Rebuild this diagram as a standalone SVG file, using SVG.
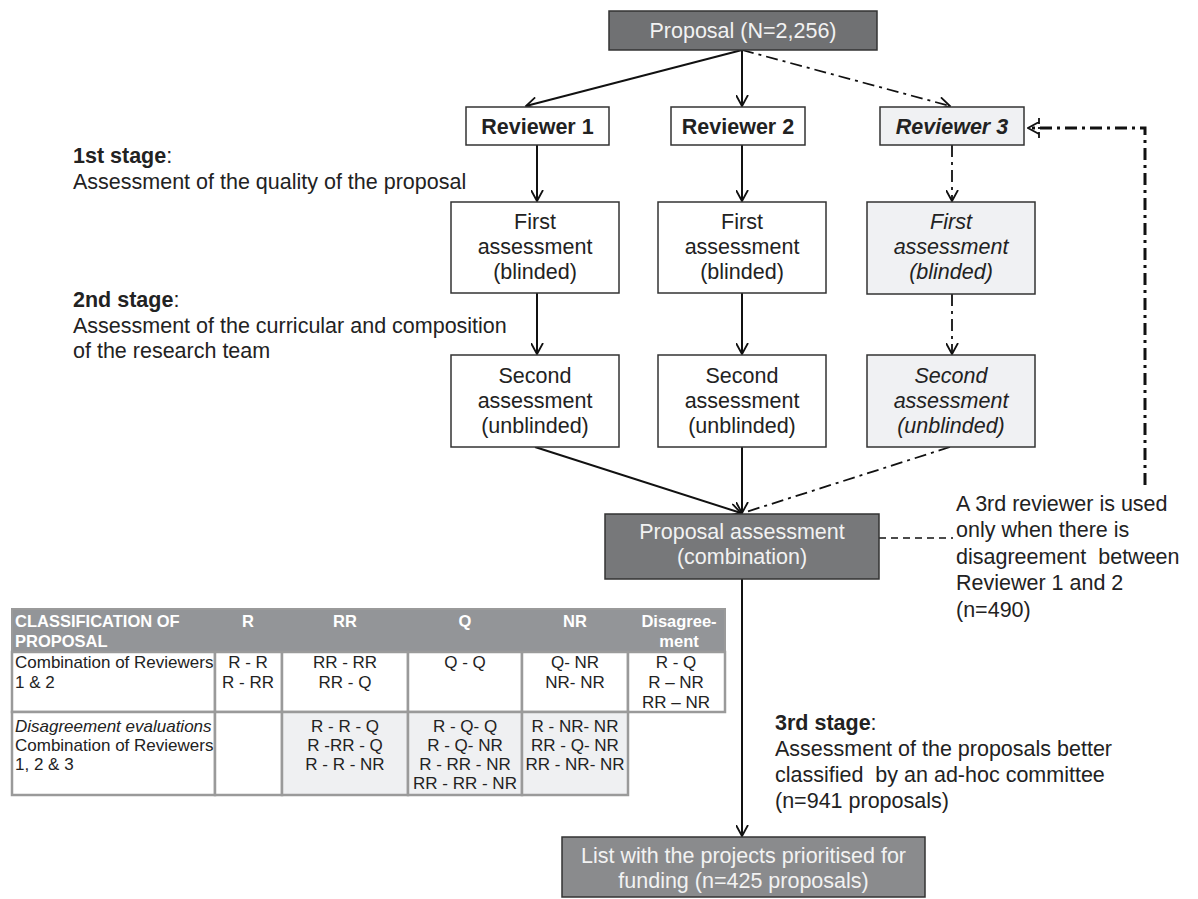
<svg xmlns="http://www.w3.org/2000/svg" width="1198" height="899" viewBox="0 0 1198 899">
<defs>
<marker id="arr" markerWidth="13" markerHeight="13" refX="11.5" refY="6.5" orient="auto" markerUnits="userSpaceOnUse" viewBox="0 0 13 13"><path d="M0.5,0.5 L11.5,6.5 L0.5,12.5" fill="none" stroke="#111" stroke-width="1.8"/></marker>
<style>
text{font-family:"Liberation Sans",Arial,Helvetica,sans-serif;}
.t{font-size:21.5px;fill:#222;}
.tw{font-size:21.5px;fill:#f2f2f2;}
.c{text-anchor:middle;}
.b{font-weight:bold;}
.i{font-style:italic;}
.pre{white-space:pre;}
.box{fill:#fff;stroke:#333;stroke-width:1.5;}
.box3{fill:#f0f1f3;stroke:#333;stroke-width:1.5;}
.dark{fill:#707173;stroke:#333;stroke-width:1.5;}
.solid{fill:none;stroke:#111;stroke-width:2;}
.dd{fill:none;stroke:#111;stroke-width:1.8;stroke-dasharray:12 5 3 5;}
.ddb{fill:none;stroke:#111;stroke-width:3;stroke-dasharray:12 5 3 5;}
.dash{fill:none;stroke:#111;stroke-width:1.5;stroke-dasharray:7 5;}
.tb{font-size:17px;fill:#222;}
.th{font-size:16.5px;font-weight:bold;fill:#fff;}
.cell{fill:#fff;stroke:#9a9a9a;stroke-width:2.5;}
.cellg{fill:#eff0f2;stroke:#9a9a9a;stroke-width:2.5;}
</style>
</defs>

<g id="connectors">
<line class="solid" x1="742" y1="50" x2="526" y2="106" marker-end="url(#arr)"/>
<line class="solid" x1="742" y1="50" x2="742" y2="106" marker-end="url(#arr)"/>
<line class="dd" x1="742" y1="50" x2="950" y2="106" marker-end="url(#arr)"/>
<line class="solid" x1="537" y1="145" x2="537" y2="201" marker-end="url(#arr)"/>
<line class="solid" x1="742" y1="145" x2="742" y2="201" marker-end="url(#arr)"/>
<line class="dd" x1="952" y1="145" x2="952" y2="201" marker-end="url(#arr)"/>
<line class="solid" x1="537" y1="293" x2="537" y2="354" marker-end="url(#arr)"/>
<line class="solid" x1="742" y1="293" x2="742" y2="354" marker-end="url(#arr)"/>
<line class="dd" x1="952" y1="294" x2="952" y2="354" marker-end="url(#arr)"/>
<line class="solid" x1="535" y1="447" x2="741" y2="513" marker-end="url(#arr)"/>
<line class="solid" x1="742" y1="447" x2="742" y2="513" marker-end="url(#arr)"/>
<line class="dd" x1="950" y1="447" x2="746" y2="512"/>
<line class="solid" x1="742" y1="579" x2="742" y2="836" marker-end="url(#arr)"/>
<line class="dash" x1="879" y1="538" x2="953" y2="538"/>
<polyline class="ddb" points="1145,485 1145,128 1028,128" marker-end="url(#arr)"/>
<line class="dd" x1="1039" y1="118" x2="1039" y2="138" style="stroke-dasharray:6 3 2 3"/>
</g>

<g id="proposal">
<rect class="dark" x="609" y="11" width="268" height="39"/>
<text class="tw c" x="743" y="38">Proposal (N=2,256)</text>
</g>

<g id="reviewer1">
<rect class="box" x="466" y="107" width="143" height="38"/>
<text class="t c b" x="537.5" y="134">Reviewer 1</text>
</g>
<g id="reviewer2">
<rect class="box" x="671" y="107" width="134" height="38"/>
<text class="t c b" x="738" y="134">Reviewer 2</text>
</g>
<g id="reviewer3">
<rect class="box3" x="880" y="107" width="144" height="38"/>
<text class="t c b i" x="952" y="134">Reviewer 3</text>
</g>

<g id="first1">
<rect class="box" x="451" y="202" width="168" height="91"/>
<text class="t c" x="535" y="229">First</text>
<text class="t c" x="535" y="254">assessment</text>
<text class="t c" x="535" y="279">(blinded)</text>
</g>
<g id="first2">
<rect class="box" x="658" y="202" width="168" height="91"/>
<text class="t c" x="742" y="229">First</text>
<text class="t c" x="742" y="254">assessment</text>
<text class="t c" x="742" y="279">(blinded)</text>
</g>
<g id="first3">
<rect class="box3" x="867" y="202" width="168" height="92"/>
<text class="t c i" x="951" y="229">First</text>
<text class="t c i" x="951" y="254">assessment</text>
<text class="t c i" x="951" y="279">(blinded)</text>
</g>

<g id="second1">
<rect class="box" x="451" y="355" width="168" height="92"/>
<text class="t c" x="535" y="383">Second</text>
<text class="t c" x="535" y="408">assessment</text>
<text class="t c" x="535" y="433">(unblinded)</text>
</g>
<g id="second2">
<rect class="box" x="658" y="355" width="168" height="92"/>
<text class="t c" x="742" y="383">Second</text>
<text class="t c" x="742" y="408">assessment</text>
<text class="t c" x="742" y="433">(unblinded)</text>
</g>
<g id="second3">
<rect class="box3" x="867" y="355" width="168" height="92"/>
<text class="t c i" x="951" y="383">Second</text>
<text class="t c i" x="951" y="408">assessment</text>
<text class="t c i" x="951" y="433">(unblinded)</text>
</g>

<g id="combination">
<rect class="dark" x="605" y="514" width="274" height="65" style="fill:#77787a"/>
<text class="tw c" x="742" y="539">Proposal assessment</text>
<text class="tw c" x="742" y="564">(combination)</text>
</g>

<g id="list">
<rect class="dark" x="562" y="837" width="363" height="60" style="fill:#8a8b8d"/>
<text class="tw c" x="743.5" y="863">List with the projects prioritised for</text>
<text class="tw c" x="743.5" y="888">funding (n=425 proposals)</text>
</g>

<g id="stage1">
<text class="t" x="73" y="163"><tspan class="b">1st stage</tspan>:</text>
<text class="t" x="73" y="189">Assessment of the quality of the proposal</text>
</g>
<g id="stage2">
<text class="t" x="73" y="307"><tspan class="b">2nd stage</tspan>:</text>
<text class="t" x="73" y="333">Assessment of the curricular and composition</text>
<text class="t" x="73" y="358">of the research team</text>
</g>
<g id="stage3">
<text class="t" x="775" y="730"><tspan class="b">3rd stage</tspan>:</text>
<text class="t" x="775" y="756">Assessment of the proposals better</text>
<text class="t pre" x="775" y="782">classified  by an ad-hoc committee</text>
<text class="t" x="775" y="808">(n=941 proposals)</text>
</g>

<g id="note">
<text class="t" x="956" y="511">A 3rd reviewer is used</text>
<text class="t" x="956" y="537">only when there is</text>
<text class="t pre" x="956" y="564">disagreement  between</text>
<text class="t" x="956" y="590">Reviewer 1 and 2</text>
<text class="t" x="956" y="617">(n=490)</text>
</g>

<g id="table">
<rect x="12" y="609" width="713" height="43" fill="#939598"/>
<rect class="cell" x="12" y="652" width="203" height="60"/>
<rect class="cell" x="215" y="652" width="67" height="60"/>
<rect class="cell" x="282" y="652" width="126" height="60"/>
<rect class="cell" x="408" y="652" width="114" height="60"/>
<rect class="cell" x="522" y="652" width="106" height="60"/>
<rect class="cell" x="628" y="652" width="97" height="60"/>
<rect class="cell" x="12" y="712" width="203" height="83"/>
<rect class="cell" x="215" y="712" width="67" height="83"/>
<rect class="cellg" x="282" y="712" width="126" height="83"/>
<rect class="cellg" x="408" y="712" width="114" height="83"/>
<rect class="cellg" x="522" y="712" width="106" height="83"/>
<rect x="12" y="609" width="713" height="43" fill="none" stroke="#9a9a9a" stroke-width="2"/>

<text class="th" x="15" y="627">CLASSIFICATION OF</text>
<text class="th" x="15" y="647">PROPOSAL</text>
<text class="th c" x="248" y="627">R</text>
<text class="th c" x="345" y="627">RR</text>
<text class="th c" x="465" y="627">Q</text>
<text class="th c" x="575" y="627">NR</text>
<text class="th c" x="679" y="627">Disagree-</text>
<text class="th c" x="679" y="647">ment</text>

<text class="tb" x="15" y="668">Combination of Reviewers</text>
<text class="tb" x="15" y="688">1 &amp; 2</text>
<text class="tb c" x="248" y="668">R - R</text>
<text class="tb c" x="248" y="688">R - RR</text>
<text class="tb c" x="345" y="668">RR - RR</text>
<text class="tb c" x="345" y="688">RR - Q</text>
<text class="tb c" x="465" y="668">Q - Q</text>
<text class="tb c" x="575" y="668">Q- NR</text>
<text class="tb c" x="575" y="688">NR- NR</text>
<text class="tb c" x="676" y="668">R - Q</text>
<text class="tb c" x="676" y="688">R – NR</text>
<text class="tb c" x="676" y="708">RR – NR</text>

<text class="tb i" x="15" y="732">Disagreement evaluations</text>
<text class="tb" x="15" y="751">Combination of Reviewers</text>
<text class="tb" x="15" y="770">1, 2 &amp; 3</text>
<text class="tb c" x="345" y="732">R - R - Q</text>
<text class="tb c" x="345" y="751">R -RR - Q</text>
<text class="tb c" x="345" y="770">R - R - NR</text>
<text class="tb c" x="465" y="732">R - Q- Q</text>
<text class="tb c" x="465" y="751">R - Q- NR</text>
<text class="tb c" x="465" y="770">R - RR - NR</text>
<text class="tb c" x="465" y="789">RR - RR - NR</text>
<text class="tb c" x="575" y="732">R - NR- NR</text>
<text class="tb c" x="575" y="751">RR - Q- NR</text>
<text class="tb c" x="575" y="770">RR - NR- NR</text>
</g>
</svg>
